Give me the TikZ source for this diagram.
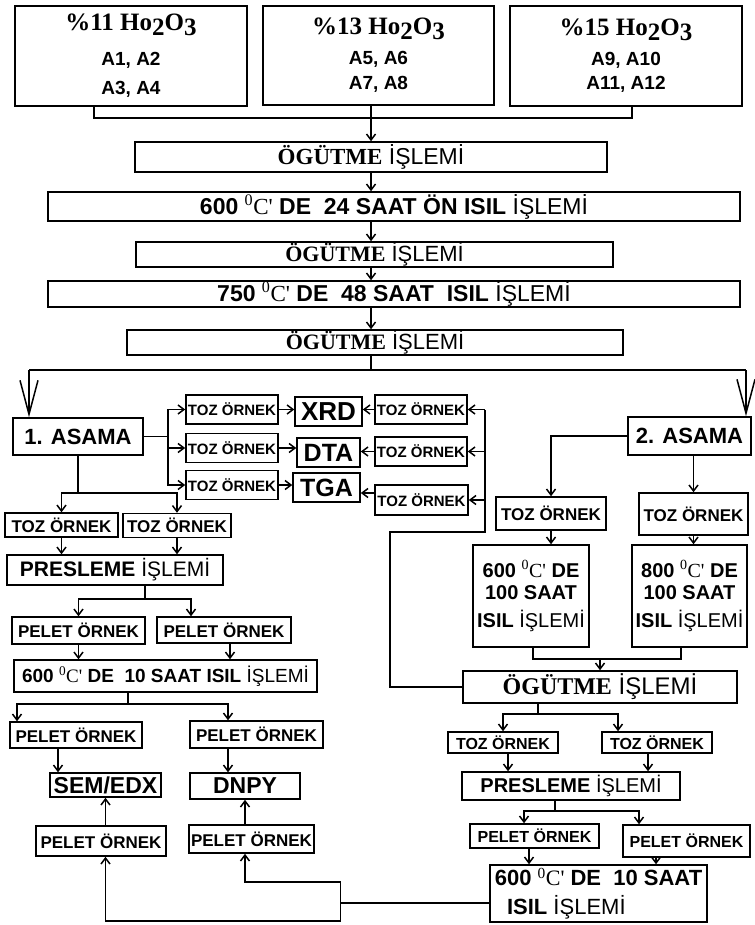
\documentclass[tikz,border=0pt]{standalone}
\usepackage{fontspec}
\setmainfont{Liberation Serif}
\setsansfont{Liberation Sans}
\usetikzlibrary{arrows.meta}
\newcommand{\islemi}{{\sffamily\mdseries İŞLEMİ}}
\newcommand{\ogutme}{{\rmfamily\bfseries ÖGÜTME} \islemi}
\newcommand{\dgC}{\textsuperscript{\rmfamily\mdseries 0}{\rmfamily\mdseries C\textquotesingle}}
\newcommand{\hoxide}[1]{{\rmfamily\bfseries\fontsize{25}{25}\selectfont\%#1 Ho\raisebox{-.2em}{2}O\raisebox{-.2em}{3}}}

\begin{document}
\begin{tikzpicture}[
    x=1pt, y=-1pt, line width=1.5pt,
    box/.style={draw, line width=1.5pt, inner xsep=2pt, inner ysep=0pt, align=center},
    sz/.style 2 args={minimum width=#1pt, minimum height=#2pt},
    fsz/.style={font=\sffamily\bfseries\fontsize{#1}{#1}\selectfont},
    toz/.style={box, sz={92}{29}, fsz=15},
    pelet/.style={box, fsz=17},
    arr/.style={-{Straight Barb[length=6pt, width=9pt]}},
    bigarr/.style={-{Straight Barb[length=34pt, width=18pt]}}
]
\useasboundingbox (0,0) rectangle (754,925);

\node[box, sz={232}{100}, fsz=19] (b11) at (131,56) {\hoxide{11}\\[16pt] A1, A2\\[10pt] A3, A4};
\node[box, sz={231}{99}, fsz=19] (b13) at (378.5,55.5) {\hoxide{13}\\[11pt] A5, A6\\[6pt] A7, A8};
\node[box, sz={232}{100}, fsz=19] (b15) at (626,56) {\hoxide{15}\\[11pt] A9, A10\\[5pt] A11, A12};

\node[box, sz={472}{30}, fsz=23] (ogt1) at (371,157) {\ogutme};
\node[box, sz={692}{29}, fsz=23] (isil1) at (394,206.5) {600 \dgC\ DE\ \ 24 SAAT ÖN ISIL \islemi};
\node[box, sz={477}{25}, fsz=22] (ogt2) at (374.5,254.5) {\ogutme};
\node[box, sz={692}{26}, fsz=23] (isil2) at (394,294) {750 \dgC\ DE\ \ 48 SAAT\ \ ISIL \islemi};
\node[box, sz={496}{25}, fsz=22] (ogt3) at (375,342.5) {\ogutme};

\node[box, sz={130}{37}, fsz=22] (as1) at (78,436.5) {1. ASAMA};
\node[toz] (tl1) at (232,409.5) {TOZ ÖRNEK};
\node[toz] (tl2) at (232,448) {TOZ ÖRNEK};
\node[toz] (tl3) at (232,485) {TOZ ÖRNEK};
\node[box, sz={67}{29}, fsz=26] (xrd) at (328.5,411.5) {XRD};
\node[box, sz={63}{29}, fsz=25] (dta) at (328.5,452.5) {DTA};
\node[box, sz={67}{29}, fsz=25] (tga) at (326.5,487.5) {TGA};
\node[toz] (tr1) at (421,409.5) {TOZ ÖRNEK};
\node[toz] (tr2) at (421,451.5) {TOZ ÖRNEK};
\node[toz, sz={93}{30}] (tr3) at (421.5,500) {TOZ ÖRNEK};

\node[box, sz={113}{24}, fsz=17] (tz1) at (61.5,525) {TOZ ÖRNEK};
\node[box, sz={108}{24}, fsz=17] (tz2) at (177,525.5) {TOZ ÖRNEK};
\node[box, sz={216}{30}, fsz=21] (pres1) at (115,570) {PRESLEME \islemi};
\node[pelet, sz={133}{27}] (pel1) at (78.5,630.5) {PELET ÖRNEK};
\node[pelet, sz={134}{26}] (pel2) at (224,630) {PELET ÖRNEK};
\node[box, sz={303}{32}, fsz=19] (hs1) at (165.5,676) {600 \dgC\ DE\ \ 10 SAAT ISIL \islemi};
\node[pelet, sz={132}{26}] (pel3) at (76,735) {PELET ÖRNEK};
\node[pelet, sz={133}{27}] (pel4) at (256.5,734.5) {PELET ÖRNEK};
\node[box, sz={111}{24}, fsz=23] (sem) at (105.5,785) {SEM/EDX};
\node[box, sz={110}{26}, fsz=23] (dnpy) at (245,786) {DNPY};
\node[pelet, sz={130}{30}] (pel5) at (101,841) {PELET ÖRNEK};
\node[pelet, sz={123}{28}] (pel6) at (251.5,839) {PELET ÖRNEK};

\node[box, sz={123}{38}, fsz=22] (as2) at (689.5,436) {2. ASAMA};
\node[box, sz={110}{33}, fsz=17] (tA) at (551,513.5) {TOZ ÖRNEK};
\node[box, sz={109}{42}, fsz=17] (tB) at (693.5,514) {TOZ ÖRNEK};
\node[box, sz={116}{102}, fsz=20] (hA) at (531,596) {600 \dgC\ DE\\[2pt] 100 SAAT\\[8pt] ISIL \islemi};
\node[box, sz={115}{102}, fsz=20] (hB) at (689.5,596) {800 \dgC\ DE\\[2pt] 100 SAAT\\[8pt] ISIL \islemi};
\node[box, sz={274}{32}, fsz=24] (ogtR) at (600,687) {\ogutme};
\node[box, sz={110}{21}, fsz=16] (tR1) at (503,742.5) {TOZ ÖRNEK};
\node[box, sz={110}{21}, fsz=16] (tR2) at (657,742.5) {TOZ ÖRNEK};
\node[box, sz={218}{28}, fsz=20] (presR) at (571,786) {PRESLEME \islemi};
\node[pelet, sz={129}{24}, fsz=16] (pelR1) at (534.5,836) {PELET ÖRNEK};
\node[pelet, sz={127}{32}, fsz=16] (pelR2) at (686.5,841) {PELET ÖRNEK};
\node[box, sz={217}{57}, fsz=22, align=left] (hsR) at (598.5,893.5) {600 \dgC\ DE\ \ 10 SAAT\\[7pt] \ \ ISIL \islemi};

\coordinate (j1) at (94,118);
\coordinate (j2) at (632,118);
\draw (b11.south -| j1) -- (j1) -- (j2) -- (b15.south -| j2);
\draw[arr] (b13.south -| ogt1.north) -- (ogt1.north);
\draw[arr] (ogt1.south) -- (ogt1.south |- isil1.north);
\draw[arr] (ogt1.south |- isil1.south) -- (ogt1.south |- ogt2.north);
\draw[arr] (ogt1.south |- ogt2.south) -- (ogt1.south |- isil2.north);
\draw[arr] (ogt1.south |- isil2.south) -- (ogt1.south |- ogt3.north);
\coordinate (sL) at (29,370);
\coordinate (sR) at (746,370);
\draw (ogt1.south |- ogt3.south) -- (ogt1.south |- sL);
\draw (sL) -- (sR);
\draw[bigarr] (sL) -- (sL |- as1.north);
\draw[bigarr] (sR) -- (sR |- as2.north);

\draw (as1.east) -- ++(24,0) coordinate (k1);
\draw[arr] (k1) |- (tl1.west);
\draw[arr] (k1) |- (tl2.west);
\draw[arr] (k1) |- (tl3.west);
\draw[arr] (tl1.east) -- (tl1.east -| xrd.west);
\draw[arr] (tl2.east) -- (tl2.east -| dta.west);
\draw[arr] (tl3.east) -- (tl3.east -| tga.west);
\draw[arr] (tr1.west) -- (tr1.west -| xrd.east);
\draw[arr] (tr2.west) -- (tr2.west -| dta.east);
\draw[arr] ([yshift=7pt]tr3.west) -- ([yshift=7pt]tr3.west -| tga.east);

\coordinate (f1) at (485,532);
\coordinate (f2) at (390,532);
\draw (ogtR.west) -| (f2) -- (f1) -- (f1 |- tr1.east);
\draw[arr] (f1 |- tr1.east) -- (tr1.east);
\draw[arr] (f1 |- tr2.east) -- (tr2.east);
\draw[arr] (f1 |- tr3.east) -- (tr3.east);

\draw (as1.south) -- ++(0,37) coordinate (k2);
\draw[arr] (k2) -| (tz1.north);
\draw[arr] (k2) -| (tz2.north);
\draw[arr] (tz1.south) -- (tz1.south |- pres1.north);
\draw[arr] (tz2.south) -- (tz2.south |- pres1.north);
\draw ([xshift=30pt]pres1.south) -- ++(0,13) coordinate (k3);
\draw[arr] (k3) -| (pel1.north);
\draw[arr] (k3) -| ([xshift=-33pt]pel2.north);
\draw[arr] (pel1.south) -- (pel1.south |- hs1.north);
\draw[arr] ([xshift=6pt]pel2.south) -- ([xshift=6pt]pel2.south |- hs1.north);
\draw ([xshift=-37.5pt]hs1.south) -- ++(0,11) coordinate (k4);
\draw[arr] (k4) -| ([xshift=-59pt]pel3.north);
\draw[arr] (k4) -| ([xshift=-28.5pt]pel4.north);
\draw[arr] ([xshift=-18pt]pel3.south) -- ([xshift=-18pt]pel3.south |- sem.north);
\draw[arr] ([xshift=-28.5pt]pel4.south) -- ([xshift=-28.5pt]pel4.south |- dnpy.north);
\draw[arr] (sem.south |- pel5.north) -- (sem.south);
\draw[arr] (dnpy.south |- pel6.north) -- (dnpy.south);
\draw ([yshift=-9.5pt]hsR.west) -- ++(-149,0) coordinate (m);
\draw[arr] (m) -- ++(0,-21) -| (dnpy.south |- pel6.south);
\draw[arr] (m) -- ++(0,18) -| (sem.south |- pel5.south);

\draw[arr] (as2.west) -| (tA.north);
\draw[arr] (as2.south -| tB.north) -- (tB.north);
\draw[arr] (tA.south) -- (tA.south |- hA.north);
\draw[arr] (tB.south) -- (tB.south |- hB.north);
\coordinate (jA) at (533,659);
\coordinate (jB) at (681,659);
\draw (hA.south -| jA) -- (jA) -- (jB) -- (hB.south -| jB);
\draw[arr] (ogtR.north |- jA) -- (ogtR.north);
\draw ([xshift=-62pt]ogtR.south) -- ++(0,10) coordinate (k5);
\draw[arr] (k5) -| (tR1.north);
\draw[arr] (k5) -| ([xshift=-39pt]tR2.north);
\draw[arr] ([xshift=5pt]tR1.south) -- ([xshift=5pt]tR1.south |- presR.north);
\draw[arr] ([xshift=-9pt]tR2.south) -- ([xshift=-9pt]tR2.south |- presR.north);
\draw ([xshift=-16pt]presR.south) -- ++(0,10) coordinate (k6);
\draw[arr] (k6) -| ([xshift=-10.5pt]pelR1.north);
\draw[arr] (k6) -| ([xshift=-47.5pt]pelR2.north);
\draw[arr] ([xshift=-5.5pt]pelR1.south) -- ([xshift=-5.5pt]pelR1.south |- hsR.north);
\draw[arr] ([xshift=-30.5pt]pelR2.south) -- ([xshift=-30.5pt]pelR2.south |- hsR.north);
\end{tikzpicture}
\end{document}
